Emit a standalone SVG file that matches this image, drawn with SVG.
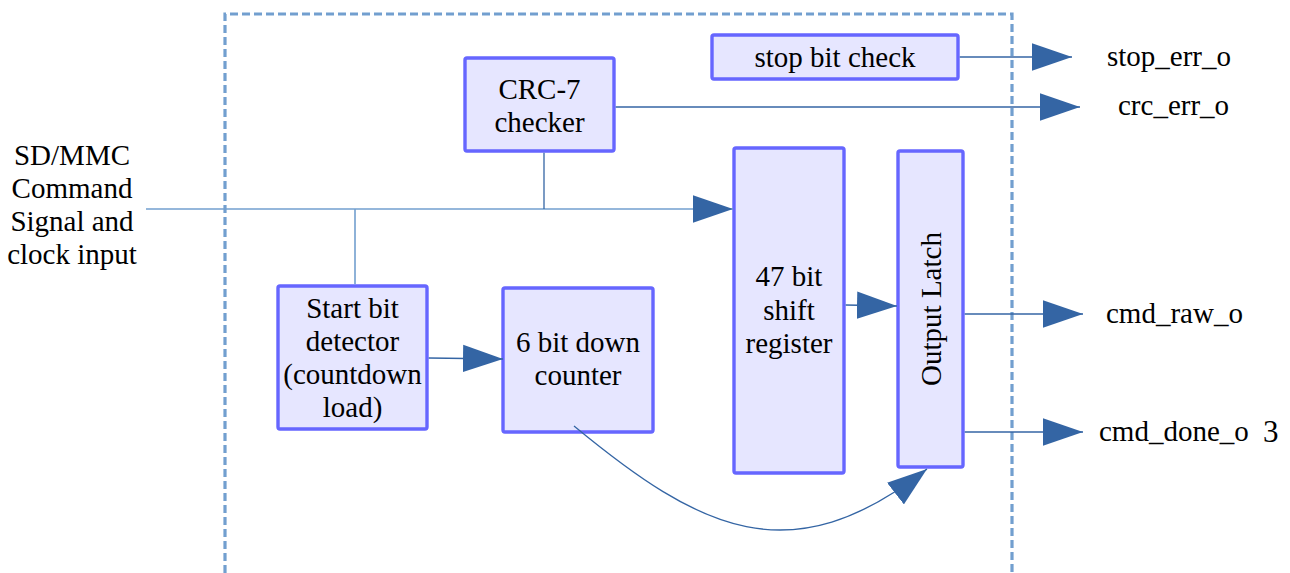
<svg xmlns="http://www.w3.org/2000/svg" width="1290" height="573" viewBox="0 0 1290 573">
<style>
  text { font-family: "Liberation Serif", "Times New Roman", serif; font-size: 29px; fill: #000; }
  .c { text-anchor: middle; }
  .box { fill: #e6e6ff; stroke: #6666ff; stroke-width: 3.4; }
  .ln { fill: none; stroke: #3465a4; stroke-width: 1.3; }
  .lt { fill: none; stroke: #729fcf; stroke-width: 1.6; }
  .border { fill: none; stroke: #729fcf; stroke-width: 3.2; stroke-dasharray: 8 4; }
</style>
<defs>
  <marker id="arr" markerUnits="userSpaceOnUse" markerWidth="40" markerHeight="28" viewBox="0 0 38 26" refX="38" refY="13" orient="auto">
    <path d="M0,0 L38,13 L0,26 z" fill="#3465a4"/>
  </marker>
</defs>
<rect width="1290" height="573" fill="#fff"/>
<path class="border" d="M225,573 V14 H1012 V573"/>

<g id="input-label">
  <text class="c" x="72" y="165">SD/MMC</text>
  <text class="c" x="72" y="198">Command</text>
  <text class="c" x="72" y="231">Signal and</text>
  <text class="c" x="72" y="264">clock input</text>
</g>

<g id="crc">
  <rect class="box" x="465" y="58" width="149" height="93" rx="2"/>
  <text class="c" x="539.5" y="99">CRC-7</text>
  <text class="c" x="539.5" y="132">checker</text>
</g>

<g id="stopbit">
  <rect class="box" x="712" y="35" width="246" height="44" rx="2"/>
  <text class="c" x="835" y="67">stop bit check</text>
</g>

<g id="startbit">
  <rect class="box" x="278" y="286" width="149" height="143" rx="2"/>
  <text class="c" x="352.5" y="318">Start bit</text>
  <text class="c" x="352.5" y="351">detector</text>
  <text class="c" x="352.5" y="384">(countdown</text>
  <text class="c" x="352.5" y="417">load)</text>
</g>

<g id="counter">
  <rect class="box" x="503" y="288" width="150" height="144" rx="2"/>
  <text class="c" x="578" y="352">6 bit down</text>
  <text class="c" x="578" y="385">counter</text>
</g>

<g id="shiftreg">
  <rect class="box" x="734" y="148" width="110" height="325" rx="2"/>
  <text class="c" x="789" y="286">47 bit</text>
  <text class="c" x="789" y="320">shift</text>
  <text class="c" x="789" y="353">register</text>
</g>

<g id="latch">
  <rect class="box" x="898" y="151" width="65" height="316" rx="2"/>
  <text class="c" transform="translate(941,309) rotate(-90)">Output Latch</text>
</g>

<g id="outputs">
  <text x="1107" y="66">stop_err_o</text>
  <text x="1118" y="115">crc_err_o</text>
  <text x="1106" y="323">cmd_raw_o</text>
  <text x="1099" y="441">cmd_done_o</text>
  <text x="1263" y="442" style="font-size:31px">3</text>
</g>

<g id="connectors">
  <path class="lt" d="M146,209 H733" marker-end="url(#arr)"/>
  <path class="ln" d="M544,152.7 V209"/>
  <path class="lt" d="M355,209 V284.3"/>
  <path class="ln" d="M959.7,57 H1072" marker-end="url(#arr)"/>
  <path class="ln" d="M615.7,107 H1080" marker-end="url(#arr)"/>
  <path class="ln" d="M428.7,358 L503,359" marker-end="url(#arr)"/>
  <path class="ln" d="M845.7,305 L897,306" marker-end="url(#arr)"/>
  <path class="ln" d="M964.7,314 H1083" marker-end="url(#arr)"/>
  <path class="ln" d="M964.7,432 H1083" marker-end="url(#arr)"/>
  <path class="ln" d="M574,426 C700,530 790,576 927,469" marker-end="url(#arr)"/>
</g>
</svg>
